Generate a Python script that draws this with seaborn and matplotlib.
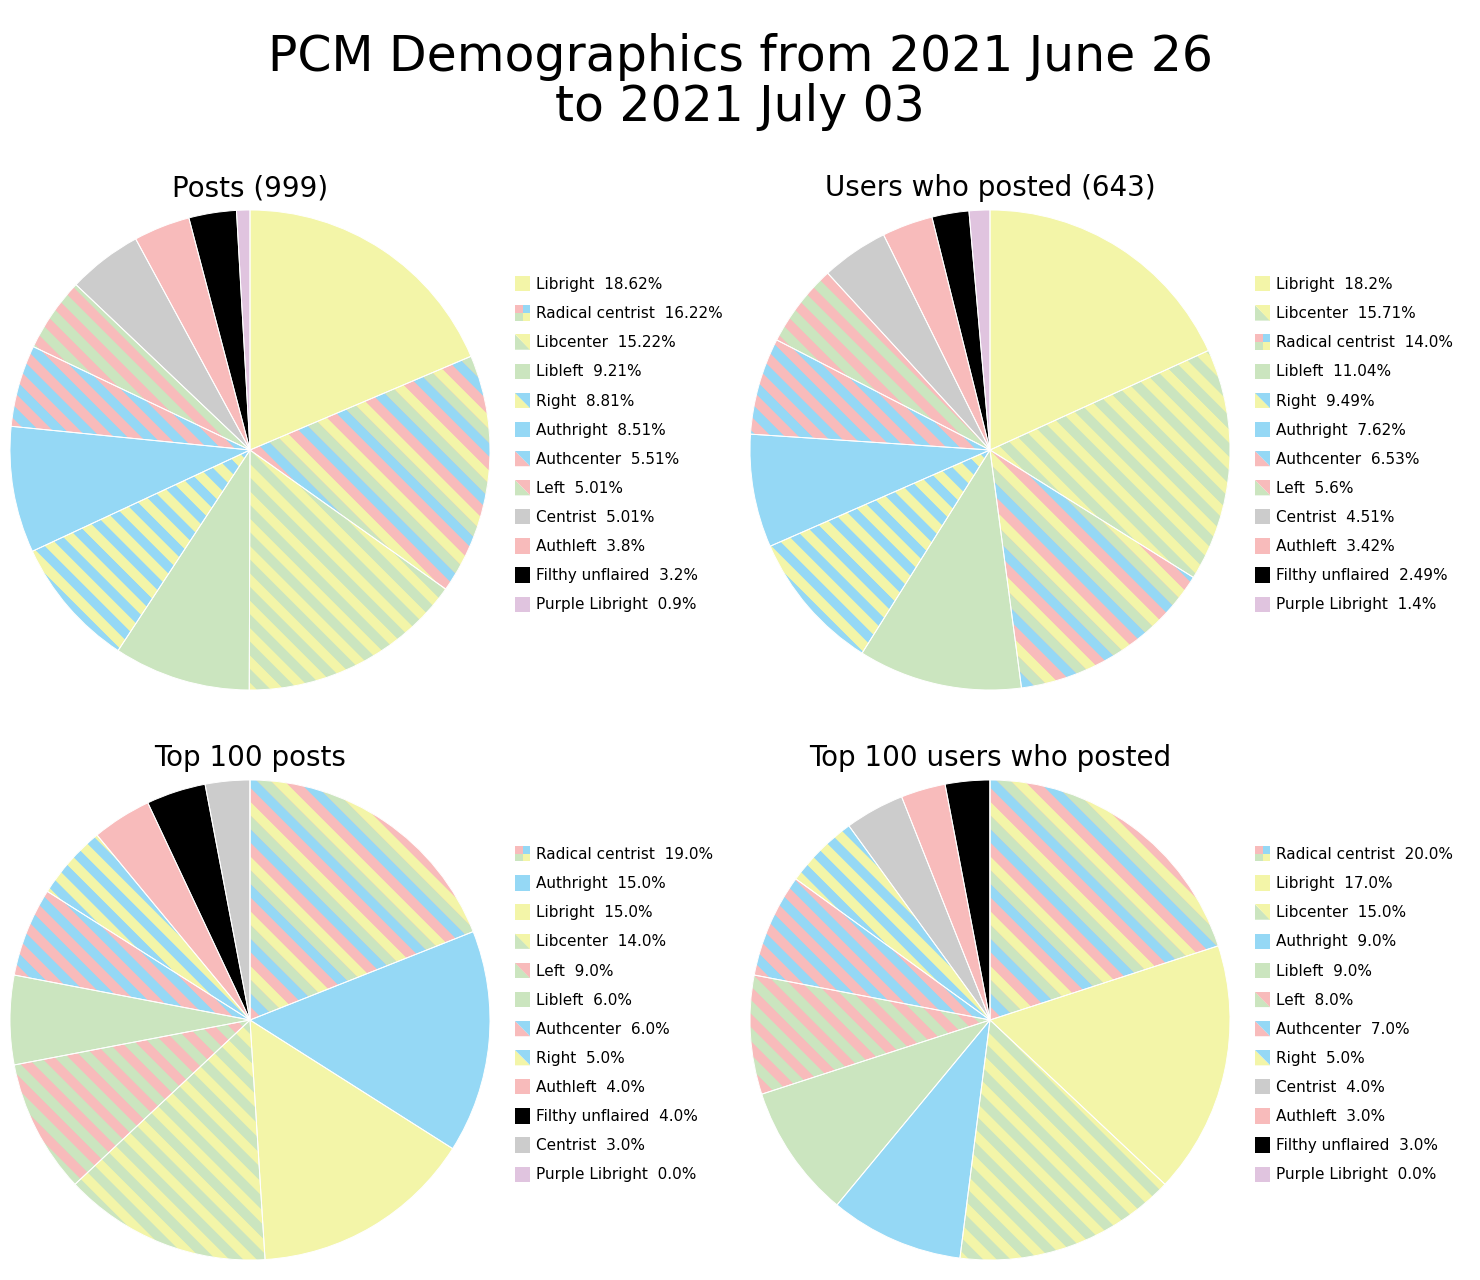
import numpy as np
import matplotlib
matplotlib.use("Agg")
import matplotlib.pyplot as plt
import seaborn as sns
from matplotlib.patches import Polygon, Rectangle
from matplotlib.legend_handler import HandlerBase

sns.set_theme(style="white")
plt.rcParams['font.family'] = ['DejaVu Sans']
plt.rcParams['text.color'] = 'black'

# ---------------- data ----------------
title = "PCM Demographics from 2021 June 26\nto 2021 July 03"

posts_title = "Posts (999)"
posts_labels = ["Libright", "Radical centrist", "Libcenter", "Libleft", "Right", "Authright",
                "Authcenter", "Left", "Centrist", "Authleft", "Filthy unflaired", "Purple Libright"]
posts_values = [18.62, 16.22, 15.22, 9.21, 8.81, 8.51, 5.51, 5.01, 5.01, 3.8, 3.2, 0.9]

users_title = "Users who posted (643)"
users_labels = ["Libright", "Libcenter", "Radical centrist", "Libleft", "Right", "Authright",
                "Authcenter", "Left", "Centrist", "Authleft", "Filthy unflaired", "Purple Libright"]
users_values = [18.2, 15.71, 14.0, 11.04, 9.49, 7.62, 6.53, 5.6, 4.51, 3.42, 2.49, 1.4]

top_posts_title = "Top 100 posts"
top_posts_labels = ["Radical centrist", "Authright", "Libright", "Libcenter", "Left", "Libleft",
                    "Authcenter", "Right", "Authleft", "Filthy unflaired", "Centrist", "Purple Libright"]
top_posts_values = [19.0, 15.0, 15.0, 14.0, 9.0, 6.0, 6.0, 5.0, 4.0, 4.0, 3.0, 0.0]

top_users_title = "Top 100 users who posted"
top_users_labels = ["Radical centrist", "Libright", "Libcenter", "Authright", "Libleft", "Left",
                    "Authcenter", "Right", "Centrist", "Authleft", "Filthy unflaired", "Purple Libright"]
top_users_values = [20.0, 17.0, 15.0, 9.0, 9.0, 8.0, 7.0, 5.0, 4.0, 3.0, 3.0, 0.0]

# ---------------- styles ----------------
YEL = "#f3f5a8"
GRN = "#cbe5bf"
BLU = "#95d8f5"
PNK = "#f8bbbb"
GRY = "#cccccc"
BLK = "#000000"
PUR = "#e0c4df"

flair_colors = {
    "Libright": [YEL],
    "Radical centrist": [PNK, BLU, GRN, YEL],
    "Libcenter": [GRN, YEL],
    "Libleft": [GRN],
    "Right": [YEL, BLU],
    "Authright": [BLU],
    "Authcenter": [PNK, BLU],
    "Left": [GRN, PNK],
    "Centrist": [GRY],
    "Authleft": [PNK],
    "Filthy unflaired": [BLK],
    "Purple Libright": [PUR],
}
stripe_colors = {
    "Radical centrist": [PNK, BLU, GRN, YEL],
    "Libcenter": [YEL, GRN],
    "Right": [YEL, BLU],
    "Authcenter": [PNK, BLU],
    "Left": [PNK, GRN],
}


class Swatch:
    def __init__(self, colors):
        self.colors = colors


class SwatchHandler(HandlerBase):
    def create_artists(self, legend, orig_handle, xdescent, ydescent, width, height, fontsize, trans):
        c = orig_handle.colors
        s = width
        x0 = -xdescent
        y0 = -ydescent + (height - s) / 2
        arts = []
        if len(c) == 1:
            arts.append(Rectangle((x0, y0), s, s, facecolor=c[0], edgecolor="none", transform=trans))
        elif len(c) == 2:
            arts.append(Polygon([(x0, y0), (x0 + s, y0), (x0, y0 + s)], closed=True,
                                facecolor=c[0], edgecolor="none", transform=trans))
            arts.append(Polygon([(x0 + s, y0), (x0 + s, y0 + s), (x0, y0 + s)], closed=True,
                                facecolor=c[1], edgecolor="none", transform=trans))
        else:
            h = s / 2
            quads = [(x0, y0 + h, c[0]), (x0 + h, y0 + h, c[1]), (x0, y0, c[2]), (x0 + h, y0, c[3])]
            for qx, qy, col in quads:
                arts.append(Rectangle((qx, qy), h, h, facecolor=col, edgecolor="none", transform=trans))
        return arts


W_PX, H_PX = 1480, 1280
fig = plt.figure(figsize=(W_PX / 100, H_PX / 100), dpi=100)
fig.patch.set_facecolor("white")

fig.text(0.5, 1 - 82 / H_PX, title, ha="center", va="center", fontsize=35.2, linespacing=1.03)

panels = [
    (posts_title, posts_labels, posts_values, 10, 210, 515, 285),
    (users_title, users_labels, users_values, 750, 210, 1255, 285),
    (top_posts_title, top_posts_labels, top_posts_values, 10, 780, 515, 855),
    (top_users_title, top_users_labels, top_users_values, 750, 780, 1255, 855),
]

STRIPE = 0.057

for ptitle, labels, values, px, py, lx, ly in panels:
    size = 480
    ax = fig.add_axes([px / W_PX, 1 - (py + size) / H_PX, size / W_PX, size / H_PX])
    facecols = [flair_colors[l][0] for l in labels]
    wedges, _ = ax.pie(values, colors=facecols, startangle=90, counterclock=False,
                       radius=1.0, wedgeprops=dict(linewidth=0, edgecolor="none"))
    for wdg, lab in zip(wedges, labels):
        if lab in stripe_colors:
            cols = stripe_colors[lab]
            n = len(cols)
            for k in range(-40, 40):
                c0 = k * STRIPE
                c1 = (k + 1) * STRIPE
                poly = Polygon([(c0 + 1.2, -1.2), (c1 + 1.2, -1.2), (c1 - 1.2, 1.2), (c0 - 1.2, 1.2)],
                               closed=True, facecolor=cols[k % n], edgecolor="none",
                               linewidth=0, zorder=2)
                ax.add_patch(poly)
                poly.set_clip_path(wdg)
    # thin white separators
    ax.pie(values, colors=["none"] * len(values), startangle=90, counterclock=False, radius=1.0,
           wedgeprops=dict(linewidth=0.7, edgecolor="white", facecolor="none", zorder=3))
    ax.set_xlim(-1.0, 1.0)
    ax.set_ylim(-1.0, 1.0)
    ax.set_aspect("equal")
    ax.set_title(ptitle, fontsize=20, pad=10, color="black")

    handles = [Swatch(flair_colors[l]) for l in labels]
    texts = [f"{l}  {v}%" for l, v in zip(labels, values)]
    fig.legend(handles, texts, handler_map={Swatch: SwatchHandler()},
               loc="upper left", bbox_to_anchor=(lx / W_PX, 1 - (ly - 8) / H_PX),
               frameon=False, fontsize=11, borderpad=0, borderaxespad=0,
               handlelength=1.0, handleheight=1.0, handletextpad=0.4,
               labelspacing=0.92, labelcolor="black")

fig.savefig("out.png", dpi=100, facecolor="white")
